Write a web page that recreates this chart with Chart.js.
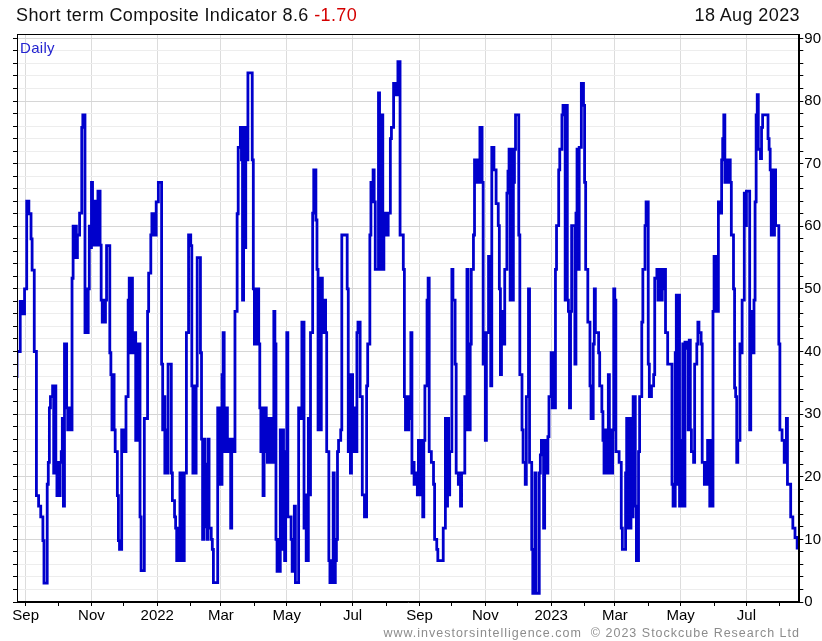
<!DOCTYPE html>
<html lang="en">
<head>
<meta charset="UTF-8">
<title>Short term Composite Indicator</title>
<style>
  body { margin: 0; background: #fff; font-family: 'Liberation Sans', Arial, sans-serif; }
  .wrap { position: relative; width: 822px; height: 641px; overflow: hidden; }
  canvas { position: absolute; left: 0; top: 0; }
  .title { position: absolute; left: 16px; top: 5px; font-size: 18px; letter-spacing: 0.4px; color: #111; white-space: nowrap; }
  .title .chg { color: #d40000; }
  .date { position: absolute; right: 22px; top: 5px; font-size: 18px; letter-spacing: 0.4px; color: #111; }
  .daily { position: absolute; left: 20px; top: 39px; font-size: 15px; letter-spacing: 0.3px; color: #2424d0; }
  .footer { position: absolute; right: 22px; top: 626px; font-size: 12.5px; color: #8c8c8c; letter-spacing: 1px; white-space: nowrap; }
</style>
<script src="https://cdn.jsdelivr.net/npm/chart.js"></script>
</head>
<body>
<div class="wrap">
  <canvas id="sci" width="822" height="641"></canvas>
  <div class="title">Short term Composite Indicator 8.6 <span class="chg">-1.70</span></div>
  <div class="date">18 Aug 2023</div>
  <div class="daily">Daily</div>
  <div class="footer">www.investorsintelligence.com &nbsp;© 2023 Stockcube Research Ltd</div>
</div>
<script>
// days counted from 1 Sep 2021, value holds until the next entry
const days = [
  -10, -9, -8, -5, -4, -3, -2, -1, 1, 3, 5, 6, 8, 10, 12, 14, 16, 17, 20, 21,
  22, 23, 25, 26, 27, 28, 29, 30, 31, 32, 33, 34, 35, 36, 38, 39, 40, 41, 43, 44,
  45, 46, 47, 48, 50, 52, 53, 55, 56, 57, 58, 59, 60, 61, 62, 63, 64, 65, 66, 67,
  69, 70, 71, 72, 73, 74, 75, 78, 79, 80, 81, 82, 83, 85, 86, 87, 89, 90, 91, 92,
  93, 95, 96, 97, 98, 99, 100, 101, 102, 103, 104, 105, 106, 107, 110,
  113, 114, 116, 117, 118, 119, 120, 121, 123, 126, 127, 128, 129, 130, 131, 132, 135, 136, 138, 139,
  140, 141, 142, 143, 144, 145, 146, 147, 149, 151, 153, 154, 155, 156, 157, 158, 159, 162, 163, 164,
  165, 166, 167, 168, 169, 170, 172, 173, 174, 178, 179, 180, 181, 182, 183, 184, 186, 187, 188, 189,
  190, 191, 193, 194, 196, 197, 199, 200, 201, 202, 203, 204, 205, 206, 210, 211, 212, 213, 214, 215,
  216, 217, 218, 219, 220, 221, 222, 223, 224, 225, 226, 227, 228, 230, 231,
  232, 233, 234, 235, 236, 237, 238, 239, 240, 241, 242, 243, 246, 247, 249, 250, 253, 255, 256, 258,
  259, 260, 262, 263, 264, 266, 267, 269, 270, 271, 272, 273, 274, 275, 276, 277, 278, 279, 281, 282,
  283, 284, 285, 286, 287, 288, 289, 290, 292, 293, 298, 299, 300, 301, 302, 303, 304, 306, 307, 308,
  310, 312, 314, 316, 317, 319, 320, 321, 322, 323, 324, 327, 328, 329, 330, 331, 332, 334, 336, 338,
  339, 341, 343, 345, 347, 350, 351, 352, 353, 354, 355, 356, 357, 358, 359, 360, 361, 362, 363, 364,
  365, 366, 367, 368, 369, 370, 372, 373, 374, 376, 378, 379, 381, 382, 387, 389, 390, 391, 392, 393,
  395, 396, 398, 399, 401, 402, 403, 404, 407, 408, 409, 410, 411, 412, 413, 415, 416, 417, 418, 419,
  421, 423, 424, 425, 426, 427, 429, 431, 432, 434, 436, 438, 439, 440, 441, 443, 444, 446, 447, 448,
  449, 450, 451, 452, 453, 454, 457, 458, 460, 461, 463, 464, 466, 467, 469, 470, 471, 472, 473, 476,
  477, 478, 480, 481, 483, 484, 485, 487, 488, 489, 490, 491, 492, 494, 495, 497, 498, 500, 501, 502,
  503, 504, 505, 506, 509, 510, 511, 512, 513, 515, 517, 518, 519, 521, 523, 524, 526, 527, 528, 531,
  532, 534, 535, 536, 537, 538, 539, 540, 541, 542, 543, 544, 545, 546, 547, 550, 552, 553, 556, 557,
  558, 559, 560, 561, 562, 563, 565, 566, 568, 569, 571, 572, 574, 575, 577, 578, 580, 582, 583, 585,
  586, 587, 588, 590, 591, 592, 593, 595, 599, 600, 602, 603, 604, 605, 606, 607, 608, 609, 610, 611,
  612, 613, 614, 615, 616, 617, 619, 620, 622, 623, 624, 626, 627, 629, 630, 631, 632, 634, 635, 636,
  637, 638, 639, 640, 641, 642, 644, 645, 646, 647, 648, 649, 650, 651, 653, 654, 656, 657, 658, 659,
  660, 662, 663, 664, 666, 667, 668, 671, 672, 674, 675, 676, 677, 678, 679, 681, 682, 683, 688, 689,
  690, 691, 692, 693, 694, 695, 698, 699, 701, 703, 705, 706, 709, 711, 713, 715, 717
];
const values = [
  30, 36, 40, 48, 46, 48, 46, 50, 64, 62, 58, 53, 40, 17, 15.3, 13.6, 9.8, 3, 18.8, 22.3,
  31, 32.8, 34.5, 20.6, 34.5, 22.3, 17, 22.3, 17, 22.3, 24, 29.3, 15.3, 41.2, 31, 27.5, 31, 27.5, 51.7, 60,
  55, 60, 55, 58.6, 62.1, 75.8, 77.8, 43, 50, 43, 50, 60, 56.6, 67, 57, 64, 57, 64, 57, 65.6,
  57, 48.2, 44.7, 48.2, 44.7, 48.2, 56.9, 39.8, 36.3, 27.5, 36.3, 27.5, 24, 17, 9.8, 8.4, 27.5, 24, 27.5, 24,
  32.8, 48.2, 51.7, 39.8, 51.7, 43, 39.8, 43, 25.8, 41.2, 25.8, 41.2, 13.6, 5, 29.3,
  46.4, 52.5, 58.6, 62, 58.6, 62, 58.6, 63.9, 67, 38, 27.5, 32.8, 20.6, 27.5, 20.6, 38, 20.6, 16.2, 13.6, 11.8,
  6.6, 11.8, 6.6, 20.6, 6.6, 20.6, 6.6, 20.6, 43, 58.6, 56.9, 34.5, 20.6, 34.5, 20.6, 34.5, 55, 39.8, 26, 10,
  26, 12, 22, 10, 26, 11.8, 10, 8.4, 3.1, 31, 18.8, 31, 18.8, 36.3, 43, 24, 31, 26, 24, 26,
  11.8, 26, 24, 46.4, 62, 72.6, 75.8, 70.6, 48.2, 75.8, 56.6, 75.8, 70.6, 84.5, 70.6, 50, 41.2, 50, 41.2, 50,
  41.2, 31, 24, 31, 17, 24, 31, 29.3, 22.3, 29.3, 22.3, 29.3, 22.3, 46.4, 41.2,
  10, 4.9, 10, 4.9, 27.5, 8.4, 27.5, 24, 6.6, 24, 43, 13.6, 10, 4.9, 15.3, 3.1, 31, 29.3, 44.7, 11.8,
  17.1, 6.6, 29.3, 17.1, 43, 62.1, 69, 61, 53.1, 27.5, 51.7, 27.5, 51.7, 48.2, 43, 48.2, 43, 24, 6.6, 3.1,
  6.6, 3.1, 20.6, 3.1, 6.6, 10, 24, 25.8, 27.5, 58.6, 50, 24, 36.3, 20.6, 36.3, 24, 31, 24, 43, 44.7,
  32.8, 17.1, 13.6, 34.5, 41.2, 58.6, 67, 63.9, 69, 63.9, 53.1, 81.3, 77.8, 53.1, 77.8, 53.1, 62.1, 58.6, 62.1, 74,
  75.8, 82.8, 81, 86.3, 58.6, 53.1, 32.8, 27.5, 32.8, 27.5, 32.8, 29.3, 43, 20.6, 22.3, 18.8, 20.6, 18.8, 17.1, 25.8,
  17.1, 25.8, 20.6, 13.6, 25.8, 34.5, 48.2, 51.7, 24, 22.3, 18.8, 10, 8.4, 6.6, 11.8, 29.3, 15.3, 29.3, 17.1, 24,
  53.1, 48.2, 38, 20.6, 18.8, 20.6, 15.3, 20.6, 32.8, 27.5, 53.1, 41.2, 27.5, 41.2, 53.1, 58.6, 70.6, 67, 70.6, 67,
  75.8, 67, 38, 43, 25.8, 43, 55.2, 34.5, 72.6, 69, 63.6, 60.1, 50, 36.3, 46.4, 41.2, 53.1, 65.3, 68.8, 72.3,
  48.2, 72.3, 48.2, 67, 72.3, 77.8, 58.6, 36.3, 27.5, 22.3, 18.8, 32.8, 50, 22.3, 8.4, 1.4, 8.4, 20.6, 1.4, 20.6,
  23.5, 25.8, 11.8, 25.8, 20.6, 26.4, 32.8, 39.8, 31, 39.8, 31, 53.1, 60.1, 69, 72.3, 77.8, 79.3, 48.2, 79.3, 48.2,
  46.4, 31, 46.4, 60.1, 38, 62.1, 72.3, 53.1, 72.6, 82.8, 79.3, 67, 53.1, 44.7, 34.5, 29.3, 41.2, 50, 43, 39.8,
  34.5, 30.4, 25.8, 20.6, 27.5, 20.6, 27.5, 36.3, 20.6, 27.5, 20.6, 27.5, 50, 48.2, 24, 22.3, 11.8, 8.4, 20.6, 29.3,
  11.8, 29.3, 11.8, 29.3, 13.6, 32.8, 15.3, 6.6, 24, 32.8, 44.7, 53.1, 60.1, 63.9, 38, 32.8, 34.5, 36.3, 51.7, 53.1,
  48.2, 53.1, 48.2, 53.1, 50, 53.1, 43, 38, 18.8, 15.3, 39.8, 49, 18.8, 49, 15.3, 25.8, 15.3, 41.2, 15.3, 41.5,
  40.5, 41.5, 27.5, 41.8, 27.5, 24, 22.3, 38, 41.2, 44.7, 43, 41.2, 22.3, 18.8, 22.3, 18.8, 25.8, 15.3, 25.8, 15.3,
  46.4, 55.2, 46.4, 55.2, 46.4, 63.9, 62.1, 70.6, 74, 77.8, 67, 70.6, 67, 70.6, 67, 58.6, 50, 34.2, 32.8, 22.3,
  25.8, 41.2, 39.8, 48.2, 65.3, 60.1, 65.6, 27.5, 46.4, 39.8, 48.2, 63.9, 77.8, 81, 72.3, 70.8, 75.8, 77.8, 74, 72.3,
  69, 58.6, 69, 58.6, 69, 60.1, 41.2, 27.5, 25.8, 22.3, 29.3, 18.8, 13.6, 11.8, 10.3, 8.6, 8.6
];

// month starts on the time axis, every other one carries a label and a grid line
const tickDates = [
  '2021-09-01', '2021-10-01', '2021-11-01', '2021-12-01', '2022-01-01', '2022-02-01',
  '2022-03-01', '2022-04-01', '2022-05-01', '2022-06-01', '2022-07-01', '2022-08-01',
  '2022-09-01', '2022-10-01', '2022-11-01', '2022-12-01', '2023-01-01', '2023-02-01',
  '2023-03-01', '2023-04-01', '2023-05-01', '2023-06-01', '2023-07-01', '2023-08-01'
];
const tickLabels = [
  'Sep', '', 'Nov', '', '2022', '', 'Mar', '', 'May', '', 'Jul', '',
  'Sep', '', 'Nov', '', '2023', '', 'Mar', '', 'May', '', 'Jul', ''
];

const START = Date.parse('2021-09-01');
const tickDays = tickDates.map(s => Math.round((Date.parse(s) - START) / 86400000));

const frame = {
  id: 'frame',
  afterDraw(chart) {
    const { ctx, chartArea: a } = chart;
    ctx.save();
    ctx.strokeStyle = '#000';
    ctx.lineWidth = 1;
    ctx.strokeRect(Math.round(a.left) + 0.5, Math.round(a.top) + 0.5,
      Math.round(a.right - a.left) - 1, Math.round(a.bottom - a.top) - 1);
    ctx.restore();
  }
};

new Chart(document.getElementById('sci'), {
  type: 'line',
  data: {
    datasets: [{
      data: days.map((d, i) => ({ x: d, y: values[i] })),
      borderColor: '#0000cc',
      borderWidth: 2.8,
      pointRadius: 0,
      stepped: true,
      fill: false
    }]
  },
  options: {
    responsive: false,
    animation: false,
    layout: { padding: { top: 34, left: 13, right: 0, bottom: 15 } },
    plugins: { legend: { display: false }, tooltip: { enabled: false } },
    scales: {
      x: {
        type: 'linear',
        min: -8,
        max: 717,
        afterBuildTicks: scale => { scale.ticks = tickDays.map(v => ({ value: v })); },
        ticks: {
          autoSkip: false,
          maxRotation: 0,
          color: '#000',
          padding: 1,
          font: { family: 'Liberation Sans', size: 15 },
          callback: (v, i) => tickLabels[i]
        },
        grid: {
          color: c => (c.index !== undefined && tickLabels[c.index]) ? '#dcdcdc' : 'rgba(0,0,0,0)',
          tickColor: '#000',
          tickLength: 4,
          lineWidth: 1
        },
        border: { display: true, color: '#000' }
      },
      y: {
        position: 'right',
        min: 0,
        max: 90.7,
        ticks: {
          stepSize: 2,
          includeBounds: false,
          autoSkip: false,
          color: '#000',
          padding: 1,
          font: { family: 'Liberation Sans', size: 15 },
          callback: v => (Math.round(v) % 10 === 0 ? Math.round(v) : '')
        },
        grid: {
          color: c => (c.tick && Math.round(c.tick.value) % 10 === 0) ? '#d6d6d6' : '#ededed',
          tickColor: '#000',
          tickLength: 4
        },
        border: { display: true, color: '#000' }
      },
      yL: {
        position: 'left',
        min: 0,
        max: 90.7,
        ticks: { display: false, stepSize: 2, includeBounds: false },
        grid: { color: 'rgba(0,0,0,0)', tickColor: '#000', tickLength: 4 },
        border: { display: true, color: '#000' }
      }
    }
  },
  plugins: [frame]
});
</script>
</body>
</html>
